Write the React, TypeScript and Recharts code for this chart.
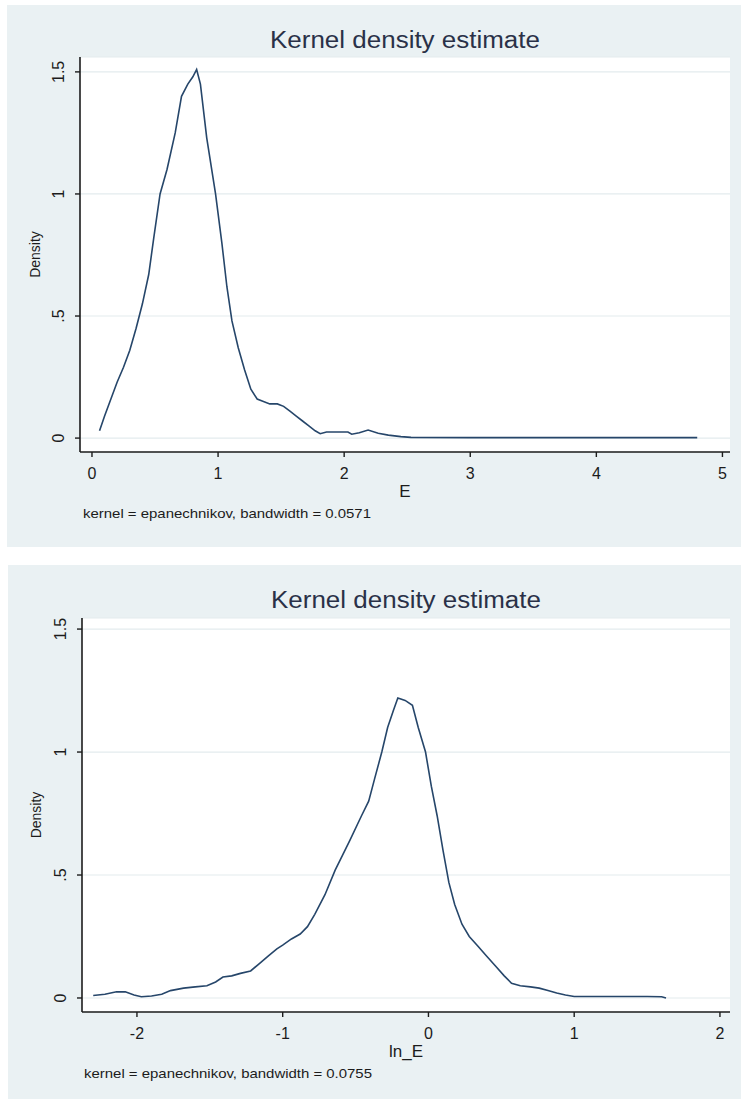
import { CartesianGrid, Label, Line, LineChart, XAxis, YAxis } from "recharts";

// E (levels)
const eX = [
  0.06, 0.1, 0.15, 0.2, 0.25, 0.3, 0.35, 0.4, 0.45, 0.49, 0.54, 0.595, 0.66,
  0.71, 0.76, 0.8, 0.83, 0.86, 0.91, 0.98, 1.03, 1.07, 1.11, 1.16, 1.21, 1.26,
  1.31, 1.36, 1.41, 1.47, 1.52, 1.57, 1.62, 1.67, 1.72, 1.77, 1.81, 1.86, 1.95,
  2.03, 2.06, 2.12, 2.19, 2.27, 2.35, 2.45, 2.53, 3.0, 3.5, 4.0, 4.5, 4.8,
];
const eDensity = [
  0.03, 0.09, 0.16, 0.23, 0.29, 0.36, 0.45, 0.55, 0.67, 0.82, 1.0, 1.1, 1.25,
  1.4, 1.45, 1.48, 1.51, 1.45, 1.23, 1.0, 0.8, 0.62, 0.48, 0.37, 0.28, 0.2,
  0.16, 0.15, 0.14, 0.14, 0.13, 0.11, 0.09, 0.07, 0.05, 0.03, 0.018, 0.025,
  0.025, 0.025, 0.016, 0.022, 0.033, 0.02, 0.012, 0.006, 0.003, 0.002, 0.002,
  0.002, 0.002, 0.002,
];

// ln_E
const lnX = [
  -2.3, -2.22, -2.14, -2.08, -2.02, -1.97, -1.9, -1.83, -1.77, -1.68, -1.6,
  -1.52, -1.46, -1.41, -1.35, -1.29, -1.22, -1.16, -1.1, -1.04, -1.0, -0.94,
  -0.88, -0.83, -0.78, -0.71, -0.64, -0.59, -0.54, -0.46, -0.41, -0.37, -0.32,
  -0.28, -0.24, -0.21, -0.16, -0.11, -0.07, -0.02, 0.02, 0.06, 0.1, 0.14, 0.18,
  0.23, 0.28, 0.34, 0.4, 0.46, 0.52, 0.57, 0.63, 0.7, 0.76, 0.82, 0.88, 0.94,
  1.0, 1.1, 1.3, 1.5, 1.6, 1.63,
];
const lnDensity = [
  0.01, 0.015, 0.025, 0.025, 0.012, 0.005, 0.008, 0.015, 0.03, 0.04, 0.045,
  0.05, 0.065, 0.085, 0.09, 0.1, 0.11, 0.14, 0.17, 0.2, 0.215, 0.24, 0.26,
  0.29, 0.34, 0.42, 0.52, 0.58, 0.64, 0.74, 0.8, 0.89, 1.0, 1.1, 1.17, 1.22,
  1.21, 1.19, 1.1, 1.0, 0.86, 0.74, 0.6, 0.47, 0.38, 0.3, 0.25, 0.21, 0.17,
  0.13, 0.09, 0.06, 0.05, 0.045, 0.04, 0.03, 0.02, 0.012, 0.006, 0.006, 0.006,
  0.006, 0.005, 0.0,
];

const yTicks = [0, 0.5, 1, 1.5];
const yTickLabels = ["0", ".5", "1", "1.5"];
const eTicks = [0, 1, 2, 3, 4, 5];
const lnTicks = [-2, -1, 0, 1, 2];

const eData = eX.map((x, i) => ({ x, density: eDensity[i] }));
const lnData = lnX.map((x, i) => ({ x, density: lnDensity[i] }));

const BG = "#eaf1f3";
const LINE = "#26466a";
const INK = "#1c1c1c";
const FONT = "'Liberation Sans', Arial, sans-serif";

const YTick = (props: any) => {
  const { x, y, payload } = props;
  const idx = yTicks.indexOf(payload.value);
  const bx = x - 9;
  return (
    <text
      x={bx}
      y={y}
      transform={`rotate(-90 ${bx} ${y})`}
      textAnchor="middle"
      fontSize={16}
      fontFamily={FONT}
      fill={INK}
    >
      {idx >= 0 ? yTickLabels[idx] : payload.value}
    </text>
  );
};

const XTick = (props: any) => {
  const { x, y, payload } = props;
  return (
    <text
      x={x}
      y={y + 20}
      textAnchor="middle"
      fontSize={16}
      fontFamily={FONT}
      fill={INK}
    >
      {payload.value}
    </text>
  );
};

type PanelProps = {
  top: number;
  left: number;
  width: number;
  height: number;
  data: { x: number; density: number }[];
  xTicks: number[];
  xDomain: [number, number];
  yDomain: [number, number];
  yAxisWidth: number;
  marginTop: number;
  marginRight: number;
  xAxisHeight: number;
  xLabel: string;
  note: string;
  titleY: number;
  noteY: number;
};

const Panel = (p: PanelProps) => {
  const plotBottom = p.height - p.xAxisHeight;
  const plotMid = (p.marginTop + plotBottom) / 2;
  return (
    <div
      style={{
        position: "absolute",
        top: p.top,
        left: p.left,
        width: p.width,
        height: p.height,
        background: BG,
      }}
    >
      <LineChart
        width={p.width}
        height={p.height}
        data={p.data}
        margin={{ top: p.marginTop, right: p.marginRight, bottom: 0, left: 0 }}
      >
        <CartesianGrid
          vertical={false}
          fill="#ffffff"
          stroke="#e3ebee"
          strokeWidth={1.2}
        />
        <XAxis
          dataKey="x"
          type="number"
          domain={p.xDomain}
          ticks={p.xTicks}
          allowDataOverflow
          height={p.xAxisHeight}
          axisLine={{ stroke: INK, strokeWidth: 1.6 }}
          tickLine={{ stroke: INK, strokeWidth: 1.4 }}
          tickSize={5}
          tickMargin={2}
          tick={<XTick />}
        >
          <Label
            content={(lp: any) => {
              const vb = lp.viewBox;
              return (
                <text
                  x={vb.x + vb.width / 2}
                  y={vb.y + 45}
                  textAnchor="middle"
                  fontSize={17}
                  fontFamily={FONT}
                  fill={INK}
                >
                  {p.xLabel}
                </text>
              );
            }}
          />
        </XAxis>
        <YAxis
          type="number"
          domain={p.yDomain}
          ticks={yTicks}
          allowDataOverflow
          width={p.yAxisWidth}
          axisLine={{ stroke: INK, strokeWidth: 1.6 }}
          tickLine={{ stroke: INK, strokeWidth: 1.4 }}
          tickSize={5}
          tickMargin={2}
          tick={<YTick />}
        >
          <Label
            content={() => (
              <text
                x={33}
                y={plotMid}
                transform={`rotate(-90 33 ${plotMid})`}
                textAnchor="middle"
                fontSize={14}
                fontFamily={FONT}
                fill={INK}
              >
                Density
              </text>
            )}
          />
        </YAxis>
        <Line
          type="linear"
          dataKey="density"
          stroke={LINE}
          strokeWidth={1.6}
          dot={false}
          isAnimationActive={false}
        />
      </LineChart>
      <svg
        width={p.width}
        height={p.height}
        style={{ position: "absolute", top: 0, left: 0, pointerEvents: "none" }}
      >
        <text
          x={398}
          y={p.titleY}
          textAnchor="middle"
          fontSize={23}
          fontFamily={FONT}
          fill="#2a3148"
          textLength={270}
          lengthAdjust="spacingAndGlyphs"
        >
          Kernel density estimate
        </text>
        <text
          x={76}
          y={p.noteY}
          fontSize={13}
          fontFamily={FONT}
          fill={INK}
          textLength={288}
          lengthAdjust="spacingAndGlyphs"
        >
          {p.note}
        </text>
      </svg>
    </div>
  );
};

export default function App() {
  return (
    <div
      style={{
        position: "absolute",
        top: 0,
        left: 0,
        width: 741,
        height: 1099,
        background: "#ffffff",
        overflow: "hidden",
      }}
    >
      <Panel
        top={5}
        left={7}
        width={734}
        height={542}
        data={eData}
        xTicks={eTicks}
        xDomain={[-0.095, 5.06]}
        yDomain={[-0.057, 1.561]}
        yAxisWidth={73}
        marginTop={52}
        marginRight={11}
        xAxisHeight={95}
        xLabel="E"
        note="kernel = epanechnikov, bandwidth = 0.0571"
        titleY={43}
        noteY={513}
      />
      <Panel
        top={565}
        left={8}
        width={733}
        height={534}
        data={lnData}
        xTicks={lnTicks}
        xDomain={[-2.377, 2.069]}
        yDomain={[-0.057, 1.545]}
        yAxisWidth={74}
        marginTop={53}
        marginRight={11}
        xAxisHeight={87}
        xLabel="ln_E"
        note="kernel = epanechnikov, bandwidth = 0.0755"
        titleY={43}
        noteY={513}
      />
    </div>
  );
}
